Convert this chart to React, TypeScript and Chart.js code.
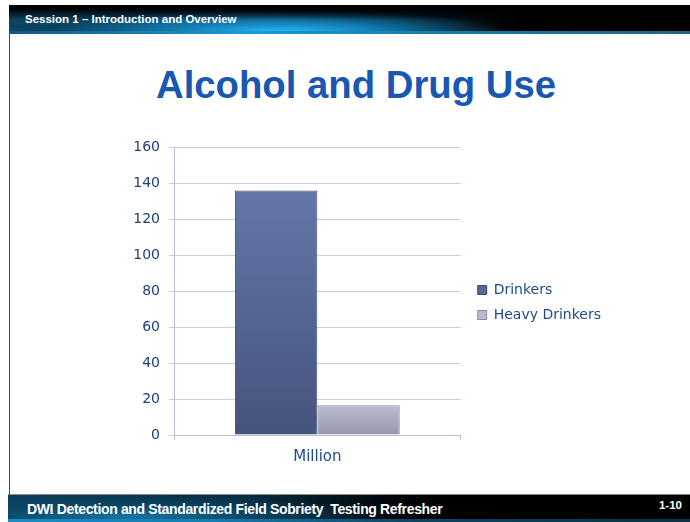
import React, { useEffect, useRef } from "react";
import { Chart, registerables } from "chart.js";

Chart.register(...registerables);

// ---- data ----
const categories = ["Million"];
const seriesNames = ["Drinkers", "Heavy Drinkers"];
const drinkersValues = [136];
const heavyDrinkersValues = [16.5];
const yMin = 0;
const yMax = 160;
const yStep = 20;

// ---- slide text ----
const titleText = "Alcohol and Drug Use";
const headerText = "Session 1 – Introduction and Overview";
const footerText = "DWI Detection and Standardized Field Sobriety  Testing Refresher";
const pageNumber = "1-10";

const CANVAS_W = 560;
const CANVAS_H = 345;

function barGradient(c1: string, c2: string) {
  return (ctx: any) => {
    const chart = ctx.chart;
    const y = chart.scales && chart.scales.y;
    if (!y || !chart.chartArea || typeof ctx.raw !== "number") return c1;
    const top = y.getPixelForValue(ctx.raw);
    const bottom = y.getPixelForValue(0);
    if (!isFinite(top) || !isFinite(bottom) || top === bottom) return c1;
    const g = chart.ctx.createLinearGradient(0, top, 0, bottom);
    g.addColorStop(0, c1);
    g.addColorStop(1, c2);
    return g;
  };
}

const legendShift = {
  id: "legendShift",
  afterLayout(chart: any) {
    const lg = chart.legend;
    if (lg) {
      lg.top -= 8;
      lg.bottom -= 8;
    }
  },
};

function BarChart() {
  const ref = useRef<HTMLCanvasElement | null>(null);
  useEffect(() => {
    if (!ref.current) return;
    const font = { family: '"DejaVu Sans", Verdana, sans-serif', size: 14 };
    const chart = new Chart(ref.current, {
      type: "bar",
      data: {
        labels: categories,
        datasets: [
          {
            label: seriesNames[0],
            data: drinkersValues,
            backgroundColor: barGradient("#6477a9", "#45547d") as any,
            borderColor: "#3f4d76",
            borderWidth: 1,
            categoryPercentage: 0.575,
            barPercentage: 1,
          },
          {
            label: seriesNames[1],
            data: heavyDrinkersValues,
            backgroundColor: barGradient("#b9bcd0", "#9599ae") as any,
            borderColor: "#8a8ea4",
            borderWidth: 1,
            categoryPercentage: 0.575,
            barPercentage: 1,
          },
        ],
      },
      options: {
        responsive: false,
        animation: false,
        devicePixelRatio: 1,
        layout: { padding: { left: 0, top: 17, right: 49, bottom: 1 } },
        plugins: {
          legend: {
            position: "right",
            align: "center",
            maxWidth: 220,
            labels: {
              boxWidth: 9,
              boxHeight: 9,
              padding: 11,
              color: "#1f4a86",
              font,
            },
          },
          tooltip: { enabled: false },
          title: { display: false },
        },
        scales: {
          x: {
            offset: true,
            grid: {
              display: true,
              drawOnChartArea: false,
              drawTicks: true,
              tickLength: 5,
              color: "#b9bdd8",
              offset: true,
            },
            border: { display: true, color: "#b9bdd8" },
            ticks: { color: "#1f4a86", font: { family: font.family, size: 15 }, padding: 8 },
          },
          y: {
            min: yMin,
            max: yMax,
            ticks: { stepSize: yStep, color: "#213f76", font, padding: 9 },
            grid: { color: "#c9cce4", tickLength: 5 },
            border: { color: "#b9bdd8" },
            afterFit: (s: any) => {
              s.width = 74;
            },
          },
          gap: {
            type: "linear",
            position: "right",
            display: true,
            grid: { display: false },
            ticks: { display: false },
            border: { display: false },
            afterFit: (s: any) => {
              s.width = 6;
            },
          },
        },
      } as any,
      plugins: [legendShift],
    });
    return () => chart.destroy();
  }, []);
  return (
    <canvas
      ref={ref}
      width={CANVAS_W}
      height={CANVAS_H}
      style={{ position: "absolute", left: 100, top: 130, width: CANVAS_W, height: CANVAS_H }}
    />
  );
}

export default function App() {
  const sans = '"Liberation Sans", Arial, sans-serif';
  return (
    <div
      style={{
        position: "absolute",
        left: 0,
        top: 0,
        width: 690,
        height: 522,
        background: "#ffffff",
        overflow: "hidden",
        fontFamily: sans,
      }}
    >
      {/* header bar */}
      <div
        style={{
          position: "absolute",
          left: 9,
          top: 5,
          width: 681,
          height: 27,
          background:
            "linear-gradient(to bottom, #000 0px, #000 4px, rgba(0,0,0,0) 15px)," +
            "radial-gradient(ellipse 230px 22px at 270px 27px, rgba(40,185,245,1) 0%, rgba(22,140,200,0.9) 40%, rgba(0,0,0,0) 100%)," +
            "linear-gradient(to right, #0c4563 0%, #0b3b58 25%, #041d2e 55%, #000 75%)",
        }}
      />
      <div
        style={{
          position: "absolute",
          left: 9,
          top: 31,
          width: 681,
          height: 3,
          background: "linear-gradient(to right, #0f5a82 0%, #1e98d2 35%, #177aa8 65%, #1d6688 100%)",
        }}
      />
      {/* left frame line */}
      <div style={{ position: "absolute", left: 9, top: 34, width: 1, height: 461, background: "#4a4a4a" }} />
      <div
        style={{
          position: "absolute",
          left: 25,
          top: 14,
          fontSize: "11.5px",
          lineHeight: "11.5px",
          fontWeight: 700,
          color: "#ffffff",
          whiteSpace: "nowrap",
        }}
      >
        {headerText}
      </div>

      {/* title */}
      <div
        style={{
          position: "absolute",
          left: 0,
          top: 66,
          width: 712,
          textAlign: "center",
          fontSize: "38.3px",
          lineHeight: "38px",
          fontWeight: 700,
          color: "#1857b2",
          whiteSpace: "nowrap",
        }}
      >
        {titleText}
      </div>

      <BarChart />

      {/* footer bar */}
      <div style={{ position: "absolute", left: 8, top: 494, width: 682, height: 1, background: "#8a8a8a" }} />
      <div
        style={{
          position: "absolute",
          left: 8,
          top: 495,
          width: 682,
          height: 24,
          background:
            "radial-gradient(ellipse 260px 22px at 120px 22px, rgba(22,120,168,0.95) 0%, rgba(12,78,110,0.7) 50%, rgba(0,0,0,0) 100%)," +
            "linear-gradient(to right, #0c405e 0%, #072b40 35%, #000 60%, #000 100%)",
        }}
      />
      <div
        style={{
          position: "absolute",
          left: 8,
          top: 519,
          width: 682,
          height: 3,
          background: "linear-gradient(to right, #1a8cc4 0%, #157eae 30%, #0c4460 60%, #0a3248 100%)",
        }}
      />
      <div
        style={{
          position: "absolute",
          left: 27,
          top: 502,
          fontSize: "14px",
          lineHeight: "14px",
          letterSpacing: "-0.35px",
          fontWeight: 700,
          color: "#ffffff",
          whiteSpace: "pre",
        }}
      >
        {footerText}
      </div>
      <div
        style={{
          position: "absolute",
          right: 8,
          top: 500,
          fontSize: "11.5px",
          lineHeight: "11.5px",
          fontWeight: 700,
          color: "#ffffff",
          whiteSpace: "nowrap",
        }}
      >
        {pageNumber}
      </div>
    </div>
  );
}
